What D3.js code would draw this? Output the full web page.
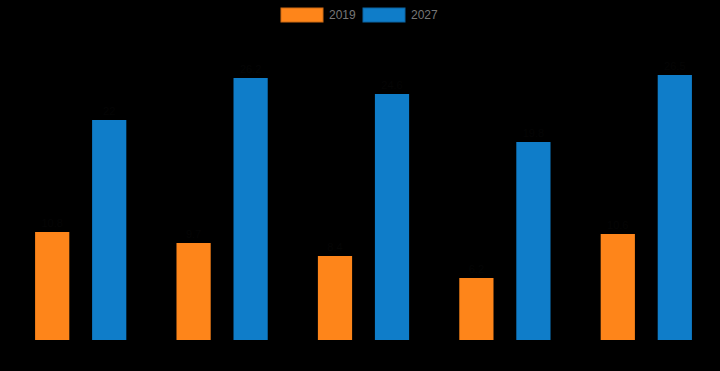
<!DOCTYPE html>
<html>
<head>
<meta charset="utf-8">
<script src="https://cdn.jsdelivr.net/npm/d3@7"></script>
<style>
  html, body { margin: 0; padding: 0; background: #000; }
  #chart { width: 720px; height: 371px; }
  text { font-family: "Liberation Sans", Arial, sans-serif; }
</style>
</head>
<body>
<div id="chart"></div>
<script>
const categories = ["A", "B", "C", "D", "E"];
const seriesNames = ["2019", "2027"];
const values2019 = [10.8, 9.7, 8.4, 6.2, 10.6];
const values2027 = [22.0, 26.2, 24.6, 19.8, 26.5];
const colors = ["#fe851a", "#0f7dc9"];

function drawChart() {
    const width = 720, height = 371;
    const margin = { top: 40, right: 3, bottom: 31, left: 10 };

    const svg = d3.select("#chart").append("svg")
        .attr("width", width)
        .attr("height", height);

    svg.append("rect")
        .attr("width", width)
        .attr("height", height)
        .attr("fill", "#000");

    const x0 = d3.scaleBand()
        .domain(categories)
        .range([margin.left, width - margin.right])
        .padding(0);

    const x1 = d3.scaleBand()
        .domain(seriesNames)
        .range([0, x0.bandwidth()])
        .paddingInner(0.4)
        .paddingOuter(0.44);

    const y = d3.scaleLinear()
        .domain([0, 30])
        .range([height - margin.bottom, margin.top]);

    const color = d3.scaleOrdinal().domain(seriesNames).range(colors);

    const rows = categories.map((c, i) => ({
        category: c,
        values: [
            { key: "2019", value: values2019[i] },
            { key: "2027", value: values2027[i] }
        ]
    }));

    const groups = svg.append("g")
        .selectAll("g")
        .data(rows)
        .join("g")
        .attr("transform", d => `translate(${x0(d.category)},0)`);

    groups.selectAll("rect")
        .data(d => d.values)
        .join("rect")
        .attr("x", d => x1(d.key))
        .attr("y", d => y(d.value))
        .attr("width", x1.bandwidth())
        .attr("height", d => y(0) - y(d.value))
        .attr("fill", d => color(d.key));

    // value labels, almost invisible on the black background as in the original
    groups.selectAll("text.value")
        .data(d => d.values)
        .join("text")
        .attr("class", "value")
        .attr("x", d => x1(d.key) + x1.bandwidth() / 2)
        .attr("y", d => y(d.value) - 5)
        .attr("text-anchor", "middle")
        .style("font-size", "11px")
        .style("fill", "#050505")
        .text(d => d.value);

    // legend
    const legend = svg.append("g")
        .attr("transform", "translate(281,8)");

    const items = legend.selectAll("g")
        .data(seriesNames)
        .join("g")
        .attr("transform", (d, i) => `translate(${i * 82},0)`);

    items.append("rect")
        .attr("width", 42)
        .attr("height", 14)
        .attr("fill", d => color(d))
        .attr("stroke", d => d3.color(color(d)).darker(0.6))
        .attr("stroke-width", 1);

    items.append("text")
        .attr("x", 48)
        .attr("y", 7)
        .attr("dy", "0.35em")
        .style("font-size", "12px")
        .style("fill", "#777")
        .text(d => d);
}

drawChart();
</script>
</body>
</html>
